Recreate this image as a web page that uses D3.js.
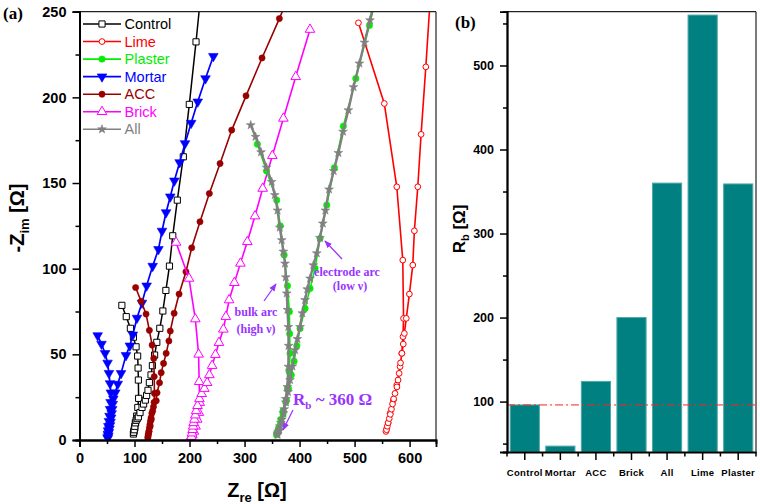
<!DOCTYPE html>
<html><head><meta charset="utf-8">
<script src="https://cdn.jsdelivr.net/npm/d3@7/dist/d3.min.js"></script>
<style>
html,body{margin:0;padding:0;background:#fff;}
svg{display:block;}
text{font-family:"Liberation Sans",Arial,sans-serif;}
.serif{font-family:"Liberation Serif","Times New Roman",serif;}
</style></head>
<body>
<svg id="chart" width="760" height="504"></svg>
<script>
// ---------- DATA ----------
const seriesNames = ["Control","Lime","Plaster","Mortar","ACC","Brick","All"];
const controlPts = [[77,78.6],[85,72],[92.5,65.2],[98,60],[102.8,54.4],[105.7,49],[106.5,42],[107,35],[107.5,24.3],[106,19],[104,14],[102,10],[100.5,7],[99,5],[98,3.5],
  [98.5,4.5],[99.5,6],[100.5,8],[101.5,10],[103,11.5],[105,12.5],[107,13.5],[110,16],[113.6,19],[116.5,21],[119.7,23.3],[122,26],[124.5,29],[127,33.5],[130,38],[132.5,43.4],[136.5,49.6],[140.5,57],[146,65.2],[151.5,75.3],[157,87.3],[163.5,101.5],[169.5,119.2],[177.8,140],[188.7,165.3],[199.6,195.9],[211.8,232.4],[222,265]];
const limePts = [[507,243.5],[554,196.4],[576.7,147.8],[587.6,105],[589,71],[588,60.3],[585.8,50.6],[582.7,42.8],[576.7,32.1],[570.5,23.3],[564.5,15.6],[561,10],[558.5,6.8],[557,5],
  [558,6],[559.5,8],[561,10],[563,12.5],[565,15],[567,18],[569,21],[571,24],[573.5,27.2],[577,31],[579,35],[581,38.9],[583.5,45],[586,50.6],[588.5,56],[590.5,62.2],[594,71],[599.6,85.2],[605.8,102.1],[608.7,122.1],[614.9,147.8],[620.9,178.4],[629.5,217.8],[637,255]];
const plasterPts = [[323.3,172.7],[340,157],[358.5,140],[365,125],[372,108],[378,90],[381.5,74.9],[382,62],[382.7,50.6],[381,40],[378,30],[375,22],[370,15],[365,9],[361,5],[358,3],
  [360,4.5],[362,7],[366,12],[370,17],[376,23.3],[380,30],[385,38],[390,46],[395,55],[400.9,65.1],[410,76.8],[419.1,88.5],[428.2,100.2],[437.3,117.7],[449.4,137.1],[463.3,158.9],[479.6,183.2],[502.2,211],[527,242],[536,254]];
const mortarPts = [[33,61],[40,56],[46.5,50.6],[51,45],[53.5,39],[55.5,33],[57,27.6],[56.5,22],[55.5,18],[54.5,14],[53.5,11],[52.5,8],[52,5.5],[51.5,3.5],[51,1.5],
  [51.5,1],[52.5,2.5],[53.5,4.5],[54.5,6.5],[55.5,8.5],[56.5,10.5],[57.5,13],[58.5,15.5],[59.5,18],[60.5,21],[61.5,24],[65,27.6],[69.5,32.7],[75.5,38.9],[84.5,49.4],[91.5,55],[97,61.4],[104.5,71.2],[113.5,80],[122,90],[133,101.5],[143.5,111.3],[150,122],[157.3,132.8],[165,142],[172.4,151.3],[182,162],[191.8,173.1],[203,185],[214.9,197.4],[229,211],[243.3,224]];
const accPts = [[102,89],[112,81],[121,73.5],[127,64],[132,55.4],[135,47.6],[135.8,37],[136.2,27.2],[135.5,22],[133,17],[130.5,12],[128.5,8],[126.5,5],[125,3],[124.2,1.2],
  [124.5,2],[125.2,3.5],[126,5],[127,7],[128,9],[129,11],[130,13],[131.5,15.6],[134.5,19.4],[139.5,22.9],[141,27.6],[145.5,33.4],[148.5,39.3],[152.8,44.7],[157.5,50.6],[162.5,57.8],[165,63.6],[172,74],[181,85.2],[193.5,98.2],[204,112.2],[219,127.4],[236,143.9],[255.5,161.4],[276.7,180.9],[302.7,200.9],[331.8,223],[363.3,246],[392,268]];
const brickPts = [[175.5,115.3],[199,94.3],[210.5,70.6],[216.5,50],[217.5,34],[218.5,21.8],[217,16],[214,12],[211,8],[208,5],[205,3],[202,1.2],
  [202.5,0.5],[203.5,2],[204.5,4],[205.5,6],[206.5,8],[207.5,10],[209,12],[210.5,14.5],[212,17],[214.5,20],[218,24],[222,27],[227,30],[232,33.4],[236,38],[241,43.4],[247,49.8],[253.5,56.8],[261.5,64.6],[266,72],[272,81.7],[281.5,91.8],[292.5,103.1],[305,115.7],[319,130.7],[333,146.8],[350.5,165.9],[370.6,187.7],[393,212],[419,239.6]];
const allPts = [[311.2,183.8],[320,177],[330,168],[340,159],[349.4,150.7],[355,143],[360,134],[364,124],[367.6,116.7],[370.5,110],[373.6,103],[375,95],[376.7,85.6],[378,76],[379.6,66],[380,55],[379.6,42.8],[377.8,31],[375,24],[372,18],[368,12],[364,8],[361,5],[359.6,3.9],
  [360,3],[363,6],[366,10],[370.5,15.6],[375,22],[379,28],[382.7,35],[387,43],[391.8,52.5],[396,59],[400.9,66],[405,74],[410,81.7],[414,88],[419.1,94.3],[425,102],[431.3,109],[437,118],[442.2,126.4],[447,134],[453.6,146.3],[462,157],[470.5,167.6],[479,180],[488.7,192.5],[498,206],[508.7,219.8],[518,232],[528,245],[535,255]];

const xTicksA = [0,100,200,300,400,500,600];
const yTicksA = [0,50,100,150,200,250];
const barCategories = ["Control","Mortar","ACC","Brick","All","Lime","Plaster"];
const barValues = [96,47,124,200,360,560,359];
const yTicksB = [100,200,300,400,500];
const refLineValue = 96;

// ---------- STYLE ----------
const colors = {Control:"#000000",Lime:"#ff0000",Plaster:"#00ee00",Mortar:"#0000ff",ACC:"#990000",Brick:"#ff00ff",All:"#808080"};
const markers = {
  Control:{type:d3.symbolSquare,size:38,fill:"#fff"},
  Lime:{type:d3.symbolCircle,size:26,fill:"#fff"},
  Plaster:{type:d3.symbolCircle,size:32,fill:null},
  Mortar:{type:d3.symbolTriangle,size:40,fill:null,rot:180},
  ACC:{type:d3.symbolCircle,size:30,fill:null},
  Brick:{type:d3.symbolTriangle,size:40,fill:"#fff"},
  All:{type:d3.symbolStar,size:24,fill:null}
};
const lineWidths = {Control:1.5,Lime:1.6,Plaster:1.6,Mortar:1.7,ACC:1.6,Brick:1.6,All:2.4};
const seriesData = {Control:controlPts,Lime:limePts,Plaster:plasterPts,Mortar:mortarPts,ACC:accPts,Brick:brickPts,All:allPts};
const drawOrder = ["Control","Mortar","ACC","Brick","Lime","Plaster","All"];

const svg = d3.select("#chart");

// ---------- PANEL A ----------
const A = {l:79.5,r:436,t:11.7,b:440};
const xA = d3.scaleLinear().domain([0,648]).range([A.l,A.r]);
const yA = d3.scaleLinear().domain([0,250]).range([A.b,A.t]);

svg.append("clipPath").attr("id","clipA").append("rect")
  .attr("x",A.l).attr("y",A.t).attr("width",A.r-A.l).attr("height",A.b-A.t);

const gA = svg.append("g");
const plotA = gA.append("g").attr("clip-path","url(#clipA)");
const line = d3.line().x(d=>xA(d[0])).y(d=>yA(d[1]));

function drawMarker(g,name,x,y){
  const m = markers[name];
  g.append("path").attr("d",d3.symbol().type(m.type).size(m.size)())
    .attr("transform",`translate(${x},${y})`+(m.rot?` rotate(${m.rot})`:""))
    .attr("fill",m.fill?m.fill:colors[name])
    .attr("stroke",colors[name]).attr("stroke-width",m.fill?1:0.6);
}

drawOrder.forEach(name=>{
  const pts = seriesData[name];
  plotA.append("path").datum(pts).attr("d",line)
    .attr("fill","none").attr("stroke",colors[name]).attr("stroke-width",lineWidths[name]);
  const mg = plotA.append("g");
  pts.forEach(p=>drawMarker(mg,name,xA(p[0]),yA(p[1])));
});

// frame
gA.append("line").attr("x1",A.l).attr("x2",A.r).attr("y1",A.t).attr("y2",A.t).attr("stroke","#222").attr("stroke-width",1.2);
gA.append("line").attr("x1",A.r).attr("x2",A.r).attr("y1",A.t).attr("y2",A.b).attr("stroke","#222").attr("stroke-width",1.2);

// axes
gA.append("g").attr("transform",`translate(0,${A.b})`)
  .call(d3.axisBottom(xA).tickValues(xTicksA).tickSize(7).tickPadding(6).tickFormat(d3.format("d")));
gA.append("g").attr("transform",`translate(0,${A.b})`)
  .call(d3.axisBottom(xA).tickValues([50,150,250,350,450,550]).tickSize(4).tickFormat(""));
gA.append("g").attr("transform",`translate(${A.l},0)`)
  .call(d3.axisLeft(yA).tickValues(yTicksA).tickSize(7).tickPadding(6));
gA.append("g").attr("transform",`translate(${A.l},0)`)
  .call(d3.axisLeft(yA).tickValues([25,75,125,175,225]).tickSize(4).tickFormat(""));
gA.selectAll(".domain").attr("stroke","#000").attr("stroke-width",1.8);
gA.selectAll(".tick line").attr("stroke","#000").attr("stroke-width",1.5);
gA.selectAll(".tick text").attr("font-size",14.5).attr("font-weight","bold").attr("fill","#000")
  .attr("font-family","'Liberation Sans',Arial,sans-serif");

// axis titles
const xt = gA.append("text").attr("x",257).attr("y",497).attr("text-anchor","middle")
  .attr("font-weight","bold").attr("font-size",20);
xt.append("tspan").text("Z");
xt.append("tspan").attr("font-size",13).attr("dy",5).text("re");
xt.append("tspan").attr("dy",-5).text(" [Ω]");

const yt = gA.append("text").attr("transform","translate(24,218) rotate(-90)").attr("text-anchor","middle")
  .attr("font-weight","bold").attr("font-size",20);
yt.append("tspan").text("-Z");
yt.append("tspan").attr("font-size",13).attr("dy",5).text("im");
yt.append("tspan").attr("dy",-5).text(" [Ω]");

gA.append("text").attr("class","serif").attr("x",3).attr("y",19).attr("font-size",17).attr("font-weight","bold").text("(a)");

// legend
const legendY0 = 24, legendDy = 17.55;
seriesNames.forEach((name,i)=>{
  const y = legendY0 + i*legendDy;
  gA.append("line").attr("x1",83).attr("x2",121).attr("y1",y).attr("y2",y).attr("stroke",colors[name]).attr("stroke-width",1.6);
  drawMarker(gA,name,102,y);
  gA.append("text").attr("x",124.5).attr("y",y+5).attr("font-size",14.5).attr("fill",colors[name]).text(name);
});

// annotations
const purple = "#9933ff";
svg.append("defs").append("marker").attr("id","arrow").attr("viewBox","0 0 10 10").attr("refX",9).attr("refY",5)
  .attr("markerWidth",6).attr("markerHeight",6).attr("orient","auto")
  .append("path").attr("d","M0,1 L10,5 L0,9 z").attr("fill",purple);
function arrow(x1,y1,x2,y2){
  gA.append("line").attr("x1",x1).attr("y1",y1).attr("x2",x2).attr("y2",y2)
    .attr("stroke",purple).attr("stroke-width",1.3).attr("marker-end","url(#arrow)");
}
arrow(342,259,325,241);
arrow(264,301,276,284);
arrow(293,410,283,430);
function note(x,y,txt,size){
  return gA.append("text").attr("class","serif").attr("x",x).attr("y",y).attr("text-anchor","middle")
    .attr("font-size",size).attr("font-weight","bold").attr("fill",purple).text(txt);
}
note(347,276,"electrode arc",12);
note(350,290,"(low ν)",12);
note(256,316,"bulk arc",12);
note(256,333,"(high ν)",12);
const rb = gA.append("text").attr("class","serif").attr("x",293).attr("y",405).attr("font-size",17).attr("font-weight","bold").attr("fill",purple);
rb.append("tspan").text("R");
rb.append("tspan").attr("font-size",11).attr("dy",4).text("b");
rb.append("tspan").attr("dy",-4).text(" ~ 360 Ω");

// ---------- PANEL B ----------
const B = {l:507,r:756,t:11.7,b:452};
const xB = d3.scaleBand().domain(barCategories).range([B.l,B.r]).paddingInner(0.18).paddingOuter(0.09);
const yB = d3.scaleLinear().domain([40,564]).range([B.b,B.t]);
const gB = svg.append("g");

gB.selectAll("rect.bar").data(barCategories).join("rect").attr("class","bar")
  .attr("x",d=>xB(d)).attr("width",xB.bandwidth())
  .attr("y",(d,i)=>yB(barValues[i])).attr("height",(d,i)=>B.b-yB(barValues[i]))
  .attr("fill","#008080").attr("stroke","#4fa8a8").attr("stroke-width",1);

gB.append("line").attr("x1",B.l).attr("x2",B.r).attr("y1",yB(refLineValue)).attr("y2",yB(refLineValue))
  .attr("stroke","#ff2020").attr("stroke-width",1).attr("stroke-dasharray","8,3,2,3");

gB.append("line").attr("x1",B.l).attr("x2",B.r).attr("y1",B.t).attr("y2",B.t).attr("stroke","#222").attr("stroke-width",1.2);
gB.append("line").attr("x1",B.r).attr("x2",B.r).attr("y1",B.t).attr("y2",B.b).attr("stroke","#222").attr("stroke-width",1.2);

const axYB = gB.append("g").attr("transform",`translate(${B.l},0)`)
  .call(d3.axisLeft(yB).tickValues(yTicksB).tickSize(7).tickPadding(6));
gB.append("g").attr("transform",`translate(${B.l},0)`)
  .call(d3.axisLeft(yB).tickValues([50,150,250,350,450,550]).tickSize(4).tickFormat(""));
const axXB = gB.append("g").attr("transform",`translate(0,${B.b})`)
  .call(d3.axisBottom(xB).tickSize(8).tickPadding(9).tickSizeOuter(0));
const step = xB.step();
const bounds = barCategories.map(d=>xB(d)-step*0.09).concat([B.r]);
gB.append("g").selectAll("line").data(bounds).join("line")
  .attr("x1",d=>d).attr("x2",d=>d).attr("y1",B.b).attr("y2",B.b+4.5).attr("stroke","#000").attr("stroke-width",1.5);
gB.selectAll(".domain").attr("stroke","#000").attr("stroke-width",1.8);
gB.selectAll(".tick line").attr("stroke","#000").attr("stroke-width",1.5);
gB.selectAll(".tick text").attr("font-weight","bold").attr("fill","#000").attr("font-family","'Liberation Sans',Arial,sans-serif");
axYB.selectAll(".tick text").attr("font-size",12.5);
axXB.selectAll(".tick text").attr("font-size",9.5).attr("letter-spacing",0.3);

const ytb = gB.append("text").attr("transform","translate(465,229) rotate(-90)").attr("text-anchor","middle")
  .attr("font-weight","bold").attr("font-size",17);
ytb.append("tspan").text("R");
ytb.append("tspan").attr("font-size",11).attr("dy",4).text("b");
ytb.append("tspan").attr("dy",-4).text(" [Ω]");

gB.append("text").attr("class","serif").attr("x",455).attr("y",28).attr("font-size",17).attr("font-weight","bold").text("(b)");
</script>
</body></html>
